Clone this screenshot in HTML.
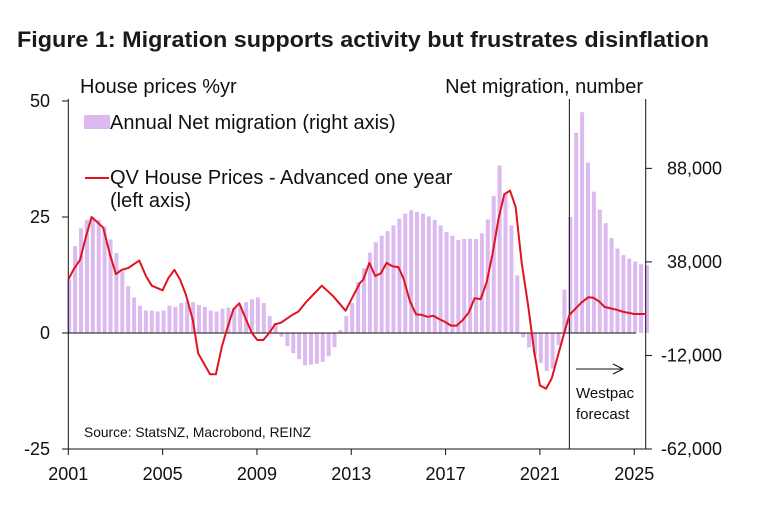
<!DOCTYPE html>
<html><head><meta charset="utf-8"><style>
html,body{margin:0;padding:0;background:#fff;}
svg{display:block;font-family:"Liberation Sans",Arial,sans-serif;}
</style></head><body>
<svg id="chart" width="762" height="510" viewBox="0 0 762 510" xmlns="http://www.w3.org/2000/svg">
<text x="17" y="47" font-size="22" font-weight="bold" fill="#1a1a1a" textLength="692" lengthAdjust="spacingAndGlyphs">Figure 1: Migration supports activity but frustrates disinflation</text>
<text x="80" y="93" font-size="20" fill="#111">House prices %yr</text>
<text x="643" y="93" font-size="20" fill="#111" text-anchor="end">Net migration, number</text>
<g id="bars"></g>
<g id="axes"></g>
<path id="priceLine" fill="none" stroke="#e0141e" stroke-width="2" stroke-linejoin="round"/>
<g>
<rect x="84" y="115" width="26" height="14" fill="#dcb9ef"/>
<text x="110" y="129" font-size="20" fill="#111">Annual Net migration (right axis)</text>
<line x1="85" y1="178" x2="109" y2="178" stroke="#e0141e" stroke-width="2"/>
<text x="110" y="184" font-size="20" fill="#111">QV House Prices - Advanced one year</text>
<text x="110" y="207" font-size="20" fill="#111">(left axis)</text>
</g>
<text x="84" y="437" font-size="13.8" fill="#111">Source: StatsNZ, Macrobond, REINZ</text>
<g>
<line x1="576" y1="369" x2="622" y2="369" stroke="#111" stroke-width="1"/>
<polyline points="613,364 623,369 613,374" fill="none" stroke="#111" stroke-width="1"/>
<text x="576" y="398" font-size="15" fill="#111">Westpac</text>
<text x="576" y="419" font-size="15" fill="#111">forecast</text>
</g>
</svg>
<script>
const migration = [28.6,46.5,56,60.5,61.6,60.5,57,50,42.7,33,25,19,14.6,12,12,11.5,12,14.6,14,16,17,16.5,15,14,12,11.5,13,13.5,13.5,14.6,16.5,18,19,16,9,5.4,-2,-7,-10.8,-14,-17.3,-17,-16.5,-15.5,-12.4,-7.6,1.6,9,16,27.2,34.6,43,48.5,52,54.4,57.5,61,63.8,65.6,64.7,63.8,62.3,60.5,57.5,53.9,52,49.7,50.3,50.3,50.3,53.3,60.7,73.3,89.5,75,57.5,30.8,-2.3,-7.7,-11.9,-16,-20.3,-19,-6.5,23.2,62,107,118,91,75.5,66,58.7,50.8,45.2,41.6,39.8,38.2,36.8,36.2];
const priceDates = [2001.0,2001.21,2001.5,2001.75,2001.99,2002.48,2002.77,2003.02,2003.26,2003.54,2004.01,2004.3,2004.54,2005.0,2005.24,2005.5,2005.74,2005.99,2006.28,2006.51,2007.01,2007.26,2007.51,2007.74,2008.0,2008.25,2008.49,2008.78,2009.02,2009.27,2009.52,2009.77,2010.01,2010.5,2010.75,2011.11,2011.75,2012.24,2012.76,2013.09,2013.37,2013.51,2013.77,2014.01,2014.25,2014.5,2014.74,2015.0,2015.21,2015.49,2015.75,2015.99,2016.24,2016.48,2016.73,2016.98,2017.23,2017.47,2017.73,2017.98,2018.23,2018.49,2018.74,2019.0,2019.24,2019.49,2019.73,2019.97,2020.23,2020.51,2020.75,2021.0,2021.26,2021.5,2021.75,2021.99,2022.25,2022.52,2022.77,2023.05,2023.26,2023.51,2023.75,2024.01,2024.26,2024.51,2025.0,2025.5];
const priceValues = [11.5,13.6,15.8,20.8,25,22.7,16.9,12.7,13.6,14,15.6,12.2,10.2,9.2,11.8,13.6,11.5,8.2,2.8,-4.4,-8.9,-8.9,-3,1,5.1,6.4,3.5,0,-1.5,-1.5,0,1.9,2.2,3.9,4.6,6.8,10.2,7.9,4.8,8.1,10.8,11.5,15.1,12.3,12.8,15.1,14.4,14.2,11.8,6.8,4,3.9,3.5,3.7,3,2.4,1.6,1.6,2.8,4.4,7.5,7.3,10.9,17.2,24.5,29.9,30.7,27.2,15.1,5.7,-3.7,-11.3,-12,-9.8,-5.1,-0.8,3.9,5.3,6.6,7.7,7.6,6.8,5.6,5.3,5,4.6,4.1,4.1];
const xTickLabels = [2001,2005,2009,2013,2017,2021,2025];
const leftTickLabels = [50,25,0,-25];
const rightTickLabels = [88000,38000,-12000,-62000];
const forecastStart = 2022.25;
const firstBarDate = 2001.04;

const NS = "http://www.w3.org/2000/svg";
const X = y => 68.3 + (y - 2001) * 23.58;
const YL = v => 333 - v * 4.64;
const YR = v => 333 - v * 0.0018710;
function mk(tag, attrs, parent){const e=document.createElementNS(NS,tag);for(const k in attrs)e.setAttribute(k,attrs[k]);parent.appendChild(e);return e;}

const bars = document.getElementById('bars');
migration.forEach((v,i)=>{
  const cx = X(firstBarDate + i*0.25);
  const y0 = YR(0), y1 = YR(v*1000);
  const r = mk('rect',{x:cx-2,y:Math.min(y0,y1),width:4,height:Math.max(0.5,Math.abs(y1-y0)),fill:'#dcb9ef'},bars);
  
  
});

const ax = document.getElementById('axes');
const zl = mk('line',{x1:68.3,y1:YL(0),x2:636,y2:YL(0),stroke:'#111','stroke-width':1},ax);


const la = mk('line',{x1:68.3,y1:YL(50)-2,x2:68.3,y2:449,stroke:'#111','stroke-width':1},ax);


const ra = mk('line',{x1:645.7,y1:YL(50)-2,x2:645.7,y2:449,stroke:'#111','stroke-width':1},ax);


const ba = mk('line',{x1:62,y1:449,x2:652,y2:449,stroke:'#111','stroke-width':1},ax);


const fl = mk('line',{x1:X(forecastStart),y1:YL(50)-2,x2:X(forecastStart),y2:449,stroke:'#111','stroke-width':1},ax);



leftTickLabels.forEach(v=>{
  const y=YL(v);
  mk('line',{x1:62,y1:y,x2:68.3,y2:y,stroke:'#111','stroke-width':1},ax);
  const t=mk('text',{x:50,y:y+6,'font-size':18,fill:'#111','text-anchor':'end'},ax);
  t.textContent=v;
  
  
});
rightTickLabels.forEach(v=>{
  const y=YR(v);
  mk('line',{x1:645.7,y1:y,x2:652,y2:y,stroke:'#111','stroke-width':1},ax);
  const t=mk('text',{x:722,y:y+6,'font-size':18,fill:'#111','text-anchor':'end'},ax);
  t.textContent=v.toLocaleString('en-US');
  
  
});
xTickLabels.forEach(v=>{
  const x=X(v);
  mk('line',{x1:x,y1:449,x2:x,y2:455,stroke:'#111','stroke-width':1},ax);
  const t=mk('text',{x:x,y:480,'font-size':18,fill:'#111','text-anchor':'middle'},ax);
  t.textContent=v;
  
  
});

document.getElementById('priceLine').setAttribute('d',
  priceDates.map((d,i)=>(i?'L':'M')+X(d).toFixed(1)+','+YL(priceValues[i]).toFixed(1)).join(' '));
</script>
</body></html>
